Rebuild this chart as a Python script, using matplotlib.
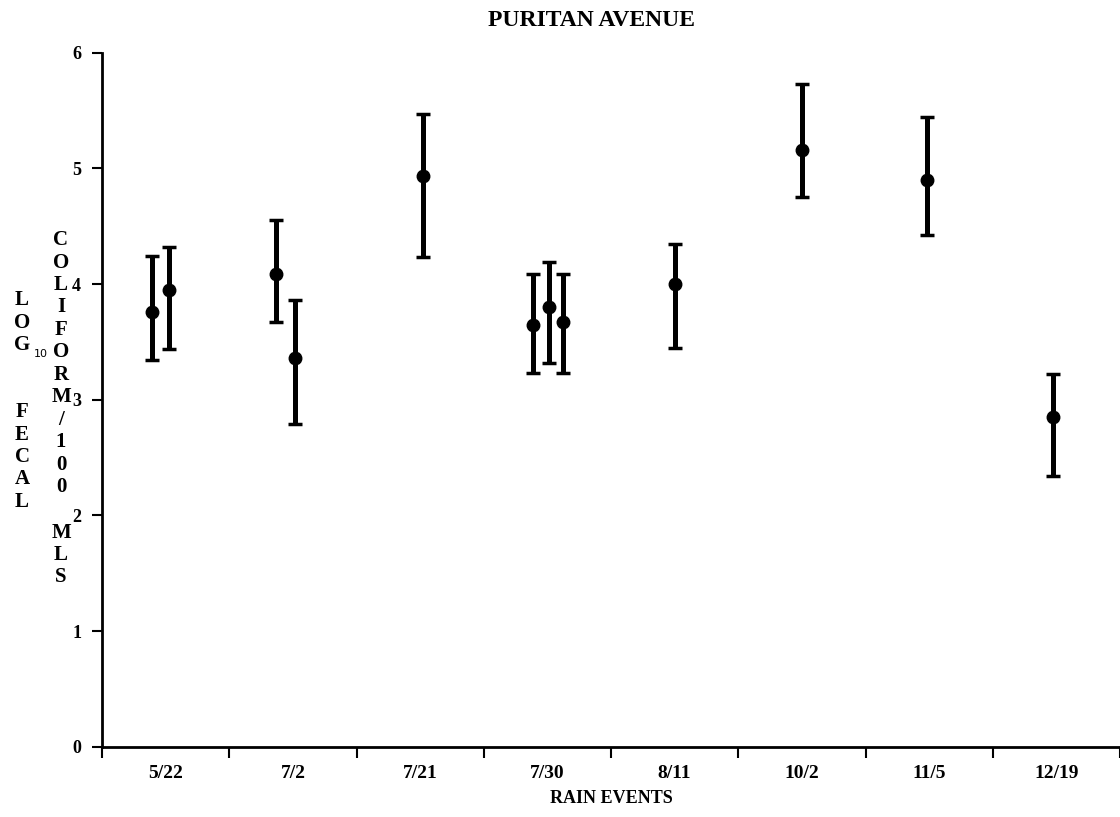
import numpy as np
import matplotlib.pyplot as plt

# ---------------- DATA ----------------
events = ["5/22", "7/2", "7/21", "7/30", "8/11", "10/2", "11/5", "12/19"]

# x position of each sample (category index, small offsets where several share a date)
sample_x = [-0.11, 0.025, 0.87, 1.02, 2.02, 2.89, 3.01, 3.12, 4.0, 5.0, 5.98, 6.97]
mean_log = [3.76, 3.95, 4.09, 3.36, 4.93, 3.65, 3.80, 3.67, 4.00, 5.16, 4.90, 2.85]
low_log = [3.34, 3.44, 3.67, 2.79, 4.23, 3.23, 3.32, 3.23, 3.45, 4.75, 4.42, 2.34]
high_log = [4.24, 4.32, 4.55, 3.86, 5.47, 4.09, 4.19, 4.09, 4.35, 5.73, 5.44, 3.22]

y_ticks = [0, 1, 2, 3, 4, 5, 6]

# ---------------- FIGURE ----------------
W, H = 1120, 817
fig = plt.figure(figsize=(W / 100, H / 100), dpi=100)
ax = fig.add_axes([102 / W, 70.3 / H, 1 - 102 / W, 694 / H])

serif = "Liberation Serif"

mean_arr = np.array(mean_log)
yerr = [mean_arr - np.array(low_log), np.array(high_log) - mean_arr]
ax.errorbar(sample_x, mean_log, yerr=yerr, fmt="o", color="black",
            ecolor="black", elinewidth=3.6, capsize=5, capthick=2.5,
            markersize=9)

ax.set_xlim(-0.5, -0.5 + (W - 102) / 129.6)
ax.set_ylim(0, 6)

for s in ["top", "right"]:
    ax.spines[s].set_visible(False)
ax.spines["left"].set_linewidth(2)
ax.spines["bottom"].set_linewidth(2)

# y ticks
ax.set_yticks(y_ticks)
ax.set_yticklabels([str(v) for v in y_ticks], fontfamily=serif,
                   fontweight="bold", fontsize=13)
ax.tick_params(axis="y", direction="out", length=7, width=1.5, pad=8)

# x ticks: marks on category boundaries, labels at centres
ax.set_xticks(np.arange(len(events) + 1) - 0.5)
ax.set_xticklabels([])
ax.set_xticks(np.arange(len(events)), minor=True)
ax.set_xticklabels(events, minor=True, fontfamily=serif,
                   fontweight="bold", fontsize=14)
ax.tick_params(axis="x", which="major", direction="out", length=8, width=1.5)
ax.tick_params(axis="x", which="minor", length=0, pad=13)

ax.set_xlabel("RAIN EVENTS", fontfamily=serif, fontweight="bold",
              fontsize=13, labelpad=6)

fig.text(592 / W, 1 - 20 / H, "PURITAN AVENUE", ha="center", va="center",
         fontfamily=serif, fontweight="bold", fontsize=17)

# ---------------- STACKED Y LABEL ----------------
step = 22.5


def stack(text, x, y0):
    for i, ch in enumerate(text):
        if ch == " ":
            continue
        fig.text(x / W, 1 - (y0 + i * step) / H, ch, ha="center", va="center",
                 fontfamily=serif, fontweight="bold", fontsize=15)


stack("LOG", 22, 300)
stack("FECAL", 22, 412)
stack("COLIFORM/100 MLS", 61, 240)
fig.text(41 / W, 1 - 354 / H, "10", ha="center", va="center",
         fontfamily="DejaVu Sans", fontsize=8)

fig.savefig("out.png", dpi=100)
